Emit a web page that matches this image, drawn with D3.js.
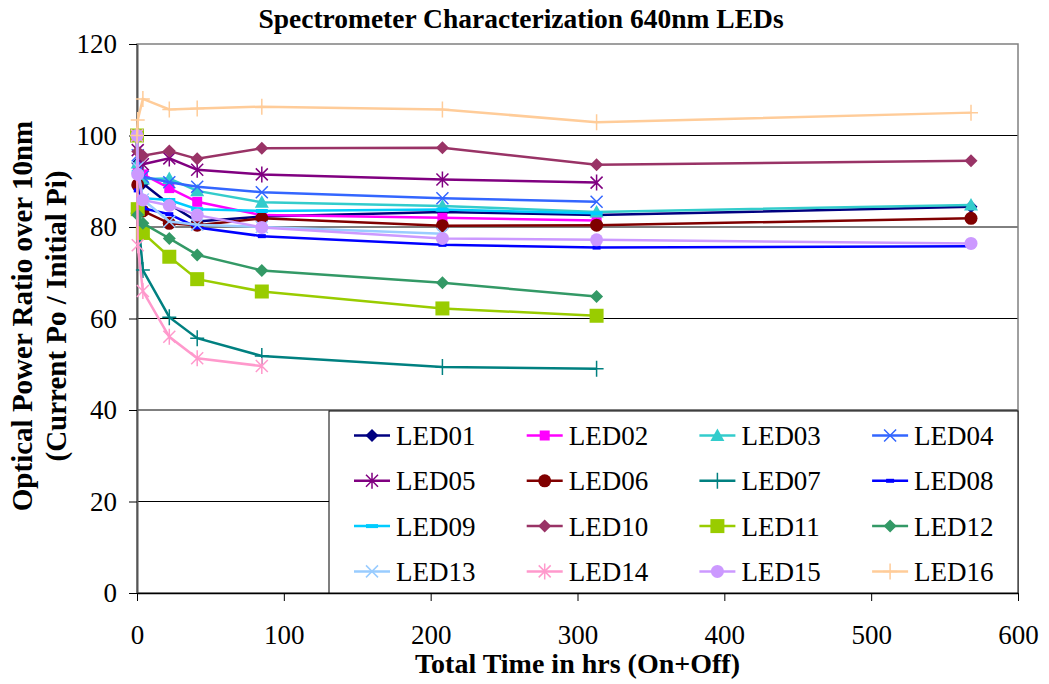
<!DOCTYPE html>
<html>
<head>
<meta charset="utf-8">
<script src="https://cdn.jsdelivr.net/npm/d3@7"></script>
<style>
  body { margin: 0; background: #fff; }
  text { font-family: "Liberation Serif", "Times New Roman", serif; fill: #000; }
</style>
</head>
<body>
<svg id="chart"></svg>
<script>
// time of each reading, hours
let hours = [0, 0.5, 4, 22, 41, 85, 208, 313, 568];

// power ratio per LED (null = no reading)
let led01 = [100, 94.0, 89.5, 85.0, 81.2, 82.3, 83.3, 82.6, 84.4];
let led02 = [100, 93.0, 91.5, 88.5, 85.5, 82.6, 82.0, 81.4, null];
let led03 = [100, 94.0, 90.5, 90.6, 87.9, 85.4, 84.6, 83.3, 84.8];
let led04 = [100, 95.7, 91.0, 89.8, 88.8, 87.6, 86.3, 85.5, null];
let led05 = [100, 96.8, 93.7, 95.0, 92.5, 91.5, 90.4, 89.7, null];
let led06 = [100, 89.2, 83.5, 80.8, 80.4, 81.9, 80.3, 80.4, 81.9];
let led07 = [100, 83.0, 70.6, 60.3, 55.7, 51.8, 49.4, 49.0, null];
let led08 = [100, 88.0, 84.1, 82.8, 79.9, 78.0, 76.1, 75.5, 75.8];
let led09 = [100, 92.0, 86.3, 85.9, 83.9, 83.5, 83.8, 83.0, null];
let led10 = [100, 96.5, 95.6, 96.6, 94.9, 97.2, 97.3, 93.6, 94.5];
let led11 = [100, 83.9, 78.7, 73.5, 68.6, 65.9, 62.2, 60.6, null];
let led12 = [100, 82.6, 80.8, 77.5, 73.9, 70.5, 67.8, 64.8, null];
let led13 = [100, 93.0, 86.0, 81.2, 80.5, 80.0, 78.5, null, null];
let led14 = [100, 76.0, 66.0, 56.0, 51.3, 49.6, null, null, null];
let led15 = [100, 91.5, 85.9, 84.7, 82.6, 79.9, 77.5, 77.2, 76.4];
let led16 = [100, 103.4, 108.0, 105.7, 105.9, 106.3, 105.7, 102.9, 105.0];

let seriesNames = ["LED01", "LED02", "LED03", "LED04", "LED05", "LED06", "LED07", "LED08",
                   "LED09", "LED10", "LED11", "LED12", "LED13", "LED14", "LED15", "LED16"];
let seriesValues = [led01, led02, led03, led04, led05, led06, led07, led08,
                    led09, led10, led11, led12, led13, led14, led15, led16];
let seriesColors = ["#000080", "#FF00FF", "#33CCCC", "#3366FF", "#800080", "#800000", "#008080", "#0000FF",
                    "#00CCFF", "#993366", "#99CC00", "#339966", "#99CCFF", "#FF99CC", "#CC99FF", "#FFCC99"];
let seriesMarkers = ["diamond", "square", "triangle", "x", "star", "circle", "plus", "dash",
                     "wdash", "diamond", "bigsquare", "diamond", "x", "star", "circle", "plus"];

let yTicks = [0, 20, 40, 60, 80, 100, 120];
let xTicks = [0, 100, 200, 300, 400, 500, 600];

let width = 1049, height = 684;
let plotLeft = 137, plotRight = 1018, plotTop = 44, plotBottom = 593;

let svg = d3.select("#chart").attr("width", width).attr("height", height);

let x = d3.scaleLinear().domain([0, 600]).range([plotLeft, plotRight]);
let y = d3.scaleLinear().domain([0, 120]).range([plotBottom, plotTop]);

// marker shapes drawn around 0,0
let markerPath = function(kind){
    switch(kind){
        case "diamond": return "M0,-6.5L6.5,0L0,6.5L-6.5,0Z";
        case "square": return "M-5,-5H5V5H-5Z";
        case "bigsquare": return "M-7,-7H7V7H-7Z";
        case "triangle": return "M0,-7L7,5.5H-7Z";
        case "circle": return "M-6.5,0A6.5,6.5 0 1,0 6.5,0A6.5,6.5 0 1,0 -6.5,0Z";
        case "x": return "M-6,-6L6,6M-6,6L6,-6";
        case "star": return "M-6,-6L6,6M-6,6L6,-6M0,-8V8";
        case "plus": return "M-7,0H7M0,-8V8";
        case "dash": return "M-4,0H4";
        case "wdash": return "M-6,0H6";
    }
};
let isStroked = function(kind){
    return ["x", "star", "plus", "dash", "wdash"].indexOf(kind) >= 0;
};
let drawMarker = function(g, kind, color, px, py){
    let p = g.append("path")
        .attr("d", markerPath(kind))
        .attr("transform", "translate(" + px + "," + py + ")");
    if(isStroked(kind)){
        p.attr("fill", "none").attr("stroke", color)
         .attr("stroke-width", (kind == "dash" || kind == "wdash") ? 4 : 1.5);
    } else {
        p.attr("fill", color).attr("stroke", "none");
    }
};

// title
svg.append("text")
    .attr("x", 521).attr("y", 28)
    .attr("text-anchor", "middle")
    .attr("font-size", "27.5px").attr("font-weight", "bold")
    .text("Spectrometer Characterization 640nm LEDs");

// grid lines
svg.append("g").selectAll("line")
    .data(yTicks.filter(d => d > 0 && d < 120))
    .enter().append("line")
    .attr("x1", plotLeft).attr("x2", plotRight)
    .attr("y1", d => y(d)).attr("y2", d => y(d))
    .attr("stroke", "#000").attr("stroke-width", 1);

// plot frame
svg.append("rect")
    .attr("x", plotLeft).attr("y", plotTop)
    .attr("width", plotRight - plotLeft).attr("height", plotBottom - plotTop)
    .attr("fill", "none").attr("stroke", "#808080").attr("stroke-width", 1.5);

// axes
let yAxis = svg.append("g")
    .attr("transform", "translate(" + plotLeft + ",0)")
    .call(d3.axisLeft(y).tickValues(yTicks).tickSize(8).tickSizeOuter(0).tickPadding(12));
let xAxis = svg.append("g")
    .attr("transform", "translate(0," + plotBottom + ")")
    .call(d3.axisBottom(x).tickValues(xTicks).tickSize(8).tickSizeOuter(0).tickPadding(24));
yAxis.select(".domain").attr("stroke", "#555").attr("stroke-width", 2);
xAxis.select(".domain").attr("stroke", "#000").attr("stroke-width", 1.5);
[yAxis, xAxis].forEach(function(ax){
    ax.attr("font-family", null);
    ax.selectAll(".tick line").attr("stroke", "#000");
    ax.selectAll(".tick text")
      .attr("font-size", "27px").attr("fill", "#000");
});

// series
let line = d3.line()
    .defined(d => d[1] != null)
    .x(d => x(d[0]))
    .y(d => y(d[1]));

seriesValues.forEach(function(vals, i){
    let pts = hours.map((h, k) => [h, vals[k]]);
    let g = svg.append("g");
    g.append("path")
        .attr("d", line(pts))
        .attr("fill", "none")
        .attr("stroke", seriesColors[i])
        .attr("stroke-width", 2.5);
    pts.filter(d => d[1] != null).forEach(function(d){
        drawMarker(g, seriesMarkers[i], seriesColors[i], x(d[0]), y(d[1]));
    });
});

// legend
let lg = svg.append("g");
lg.append("rect")
    .attr("x", 329).attr("y", 411)
    .attr("width", plotRight - 329).attr("height", plotBottom - 411)
    .attr("fill", "#fff").attr("stroke", "#000").attr("stroke-width", 1);
seriesNames.forEach(function(name, i){
    let col = i % 4, row = Math.floor(i / 4);
    let lx = 354 + col * 172.7, ly = 435.5 + row * 45.3;
    lg.append("line")
        .attr("x1", lx).attr("x2", lx + 36)
        .attr("y1", ly).attr("y2", ly)
        .attr("stroke", seriesColors[i]).attr("stroke-width", 2.5);
    drawMarker(lg, seriesMarkers[i], seriesColors[i], lx + 18, ly);
    lg.append("text")
        .attr("x", lx + 42).attr("y", ly)
        .attr("dy", "0.35em")
        .attr("font-size", "27px")
        .text(name);
});

// axis titles
svg.append("text")
    .attr("x", (plotLeft + plotRight) / 2).attr("y", 673)
    .attr("text-anchor", "middle")
    .attr("font-size", "28px").attr("font-weight", "bold")
    .text("Total Time in hrs (On+Off)");

let yt = svg.append("text")
    .attr("transform", "translate(32,316) rotate(-90)")
    .attr("text-anchor", "middle")
    .attr("font-size", "29px").attr("font-weight", "bold");
yt.append("tspan").attr("x", 0).attr("y", 0).text("Optical Power Ratio over 10nm");
yt.append("tspan").attr("x", 0).attr("y", 34).text("(Current Po / Initial Pi)");
</script>
</body>
</html>
